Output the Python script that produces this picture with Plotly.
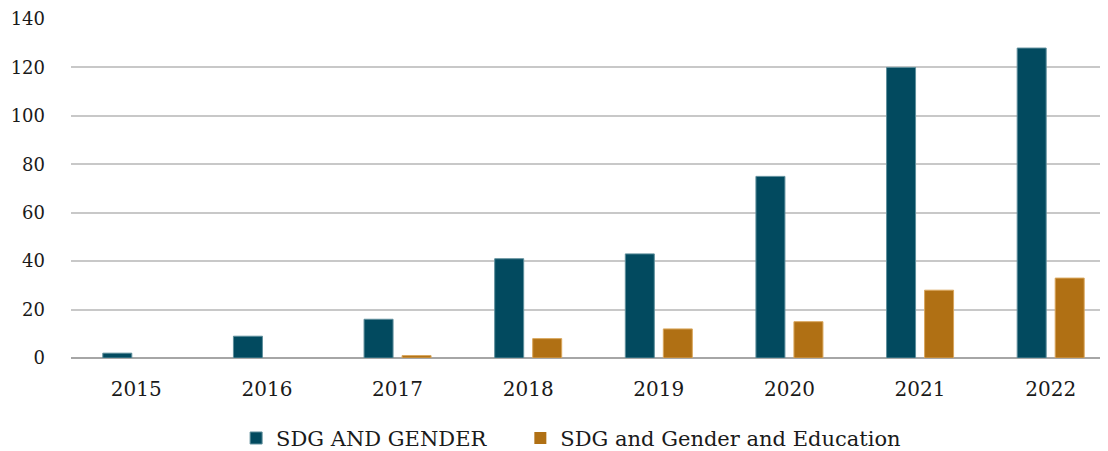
import plotly.graph_objects as go

years = ["2015", "2016", "2017", "2018", "2019", "2020", "2021", "2022"]
sdg_gender = [2, 9, 16, 41, 43, 75, 120, 128]
sdg_gender_edu = [0, 0, 1, 8, 12, 15, 28, 33]
y_ticks = [0, 20, 40, 60, 80, 100, 120, 140]

FONT = "Georgia, 'DejaVu Serif', serif"

def edge_widths(vals):
    return [1 if v > 0 else 0 for v in vals]

fig = go.Figure()
fig.add_trace(go.Bar(
    x=list(range(len(years))), y=sdg_gender, name="SDG AND GENDER",
    marker=dict(color="#024a5f", line=dict(color="#5f8f9c", width=edge_widths(sdg_gender))),
    legend="legend",
))
fig.add_trace(go.Bar(
    x=list(range(len(years))), y=sdg_gender_edu, name="SDG and Gender and Education",
    marker=dict(color="#b07014", line=dict(color="#d9a65c", width=edge_widths(sdg_gender_edu))),
    legend="legend2",
))

legend_common = dict(orientation="h", xref="paper", xanchor="left",
                     y=-0.237, yanchor="middle",
                     font=dict(family=FONT, size=21, color="#1a1a1a"),
                     itemwidth=30, bgcolor="rgba(0,0,0,0)")

fig.update_layout(
    width=1108, height=451,
    margin=dict(l=63, r=0, t=11, b=101, autoexpand=False),
    paper_bgcolor="white", plot_bgcolor="white",
    barmode="group", bargap=0.418, bargroupgap=0.237,
    font=dict(family=FONT, size=18, color="#1a1a1a"),
    showlegend=True,
    legend=dict(x=0.158, **legend_common),
    legend2=dict(x=0.430, **legend_common),
    xaxis=dict(
        tickmode="array", tickvals=list(range(len(years))), ticktext=years,
        range=[-0.5, 7.5], showgrid=False, showline=False, zeroline=False,
        ticks="", ticklabelstandoff=17, automargin=False,
        tickfont=dict(size=20),
    ),
    yaxis=dict(
        tickmode="array", tickvals=y_ticks, range=[0, 140],
        showgrid=True, gridcolor="#c8c8c8", gridwidth=2,
        zeroline=True, zerolinecolor="#a6a6a6", zerolinewidth=2,
        showline=False, ticks="", ticklabelstandoff=25, automargin=False,
    ),
)

fig.write_html("out.html")
